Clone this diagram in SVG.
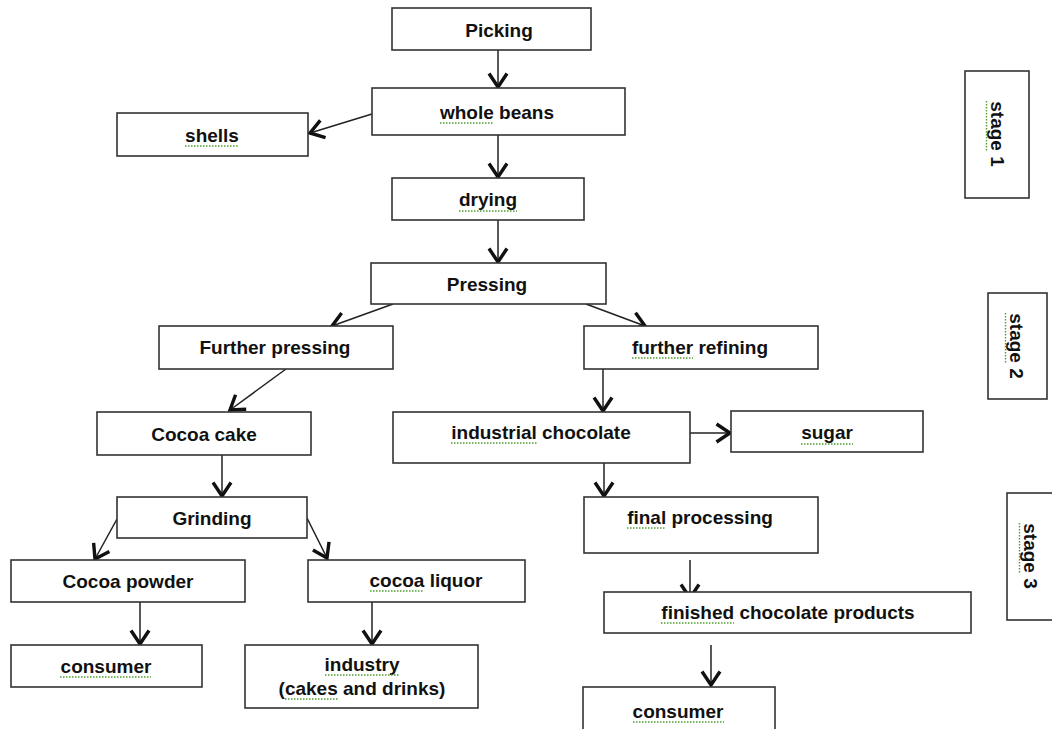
<svg xmlns="http://www.w3.org/2000/svg" width="1052" height="729" viewBox="0 0 1052 729">
<defs>
<style>
.box{fill:#fff;stroke:#333;stroke-width:1.6}
.t{font-family:"Liberation Sans",Arial,sans-serif;font-weight:bold;font-size:19px;fill:#111;text-anchor:middle}
.c{stroke:#222;stroke-width:1.5;fill:none;marker-end:url(#ah)}
.sq{stroke:#4aa02c;stroke-width:1.4;fill:none;stroke-dasharray:1.5 1.5}
</style>
<marker id="ah" viewBox="0 0 18 22" refX="15.5" refY="11" markerWidth="18" markerHeight="22" markerUnits="userSpaceOnUse" orient="auto">
<path d="M2,2 L15.5,11 L2,20" fill="none" stroke="#111" stroke-width="3.4" stroke-linejoin="miter"/>
</marker>
</defs>
<rect width="1052" height="729" fill="#fff"/>
<g id="connectors">
<line class="c" x1="498" y1="50" x2="498" y2="87"/>
<line class="c" x1="372" y1="114" x2="310" y2="133"/>
<line class="c" x1="498" y1="135" x2="498" y2="177"/>
<line class="c" x1="498" y1="220" x2="498" y2="262"/>
<line class="c" x1="393" y1="304" x2="332" y2="326"/>
<line class="c" x1="586" y1="304" x2="645" y2="326"/>
<line class="c" x1="286" y1="369" x2="230" y2="410"/>
<line class="c" x1="603" y1="369" x2="603" y2="411"/>
<line class="c" x1="222" y1="455" x2="222" y2="496"/>
<line class="c" x1="690" y1="433" x2="730" y2="433"/>
<line class="c" x1="604" y1="455" x2="604" y2="496"/>
<line class="c" x1="117" y1="519" x2="95" y2="559"/>
<line class="c" x1="307" y1="518" x2="327" y2="558"/>
<line class="c" x1="140" y1="602" x2="140" y2="644"/>
<line class="c" x1="372" y1="602" x2="372" y2="644"/>
<line class="c" x1="690" y1="560" x2="690" y2="598"/>
<line class="c" x1="711" y1="645" x2="711" y2="685"/>
</g>
<g id="picking"><rect class="box" x="392" y="8" width="199" height="42"/><text class="t" x="499" y="37">Picking</text></g>
<g id="whole-beans"><rect class="box" x="372" y="88" width="253" height="47"/><text class="t" x="497" y="119">whole beans</text><line class="sq" x1="440" y1="123" x2="494" y2="123"/></g>
<g id="shells"><rect class="box" x="117" y="113" width="191" height="43"/><text class="t" x="212" y="142">shells</text><line class="sq" x1="185" y1="146" x2="239" y2="146"/></g>
<g id="drying"><rect class="box" x="392" y="178" width="192" height="42"/><text class="t" x="488" y="206">drying</text><line class="sq" x1="459" y1="211" x2="517" y2="211"/></g>
<g id="pressing"><rect class="box" x="371" y="263" width="235" height="41"/><text class="t" x="487" y="291">Pressing</text></g>
<g id="further-pressing"><rect class="box" x="159" y="326" width="234" height="43"/><text class="t" x="275" y="354">Further pressing</text></g>
<g id="further-refining"><rect class="box" x="584" y="326" width="234" height="43"/><text class="t" x="700" y="354">further refining</text><line class="sq" x1="632" y1="358" x2="693" y2="358"/></g>
<g id="cocoa-cake"><rect class="box" x="97" y="412" width="214" height="43"/><text class="t" x="204" y="441">Cocoa cake</text></g>
<g id="industrial-chocolate"><rect class="box" x="393" y="412" width="297" height="51"/><text class="t" x="541" y="439">industrial chocolate</text><line class="sq" x1="451" y1="443" x2="537" y2="443"/></g>
<g id="sugar"><rect class="box" x="731" y="411" width="192" height="41"/><text class="t" x="827" y="439">sugar</text><line class="sq" x1="801" y1="444" x2="853" y2="444"/></g>
<g id="grinding"><rect class="box" x="117" y="497" width="190" height="41"/><text class="t" x="212" y="525">Grinding</text></g>
<g id="cocoa-powder"><rect class="box" x="11" y="560" width="234" height="42"/><text class="t" x="128" y="588">Cocoa powder</text></g>
<g id="cocoa-liquor"><rect class="box" x="308" y="560" width="217" height="42"/><text class="t" x="426" y="587">cocoa liquor</text><line class="sq" x1="370" y1="591" x2="424" y2="591"/></g>
<g id="consumer-left"><rect class="box" x="11" y="645" width="191" height="42"/><text class="t" x="106" y="673">consumer</text><line class="sq" x1="60" y1="677" x2="151" y2="677"/></g>
<g id="industry"><rect class="box" x="245" y="645" width="233" height="63"/><text class="t" x="362" y="671">industry</text><text class="t" x="362" y="695">(cakes and drinks)</text><line class="sq" x1="325" y1="675" x2="400" y2="675"/><line class="sq" x1="285" y1="699" x2="338" y2="699"/></g>
<g id="final-processing"><rect class="box" x="584" y="497" width="234" height="56"/><text class="t" x="700" y="524">final processing</text><line class="sq" x1="627" y1="528" x2="666" y2="528"/></g>
<g id="finished-products"><rect class="box" x="604" y="592" width="367" height="41"/><text class="t" x="788" y="619">finished chocolate products</text><line class="sq" x1="661" y1="623" x2="734" y2="623"/></g>
<g id="consumer-right"><rect class="box" x="583" y="687" width="192" height="46"/><text class="t" x="678" y="718">consumer</text><line class="sq" x1="633" y1="722" x2="724" y2="722"/></g>
<g id="stage-1"><rect class="box" x="965" y="71" width="64" height="127"/><g transform="translate(997,134) rotate(90)"><text class="t" y="6.5">stage 1</text><line class="sq" x1="-33" y1="10.5" x2="17" y2="10.5"/></g></g>
<g id="stage-2"><rect class="box" x="988" y="293" width="59" height="106"/><g transform="translate(1016,346) rotate(90)"><text class="t" y="6.5">stage 2</text><line class="sq" x1="-33" y1="10.5" x2="17" y2="10.5"/></g></g>
<g id="stage-3"><rect class="box" x="1007" y="493" width="50" height="127"/><g transform="translate(1030,556) rotate(90)"><text class="t" y="6.5">stage 3</text><line class="sq" x1="-33" y1="10.5" x2="17" y2="10.5"/></g></g>
</svg>
